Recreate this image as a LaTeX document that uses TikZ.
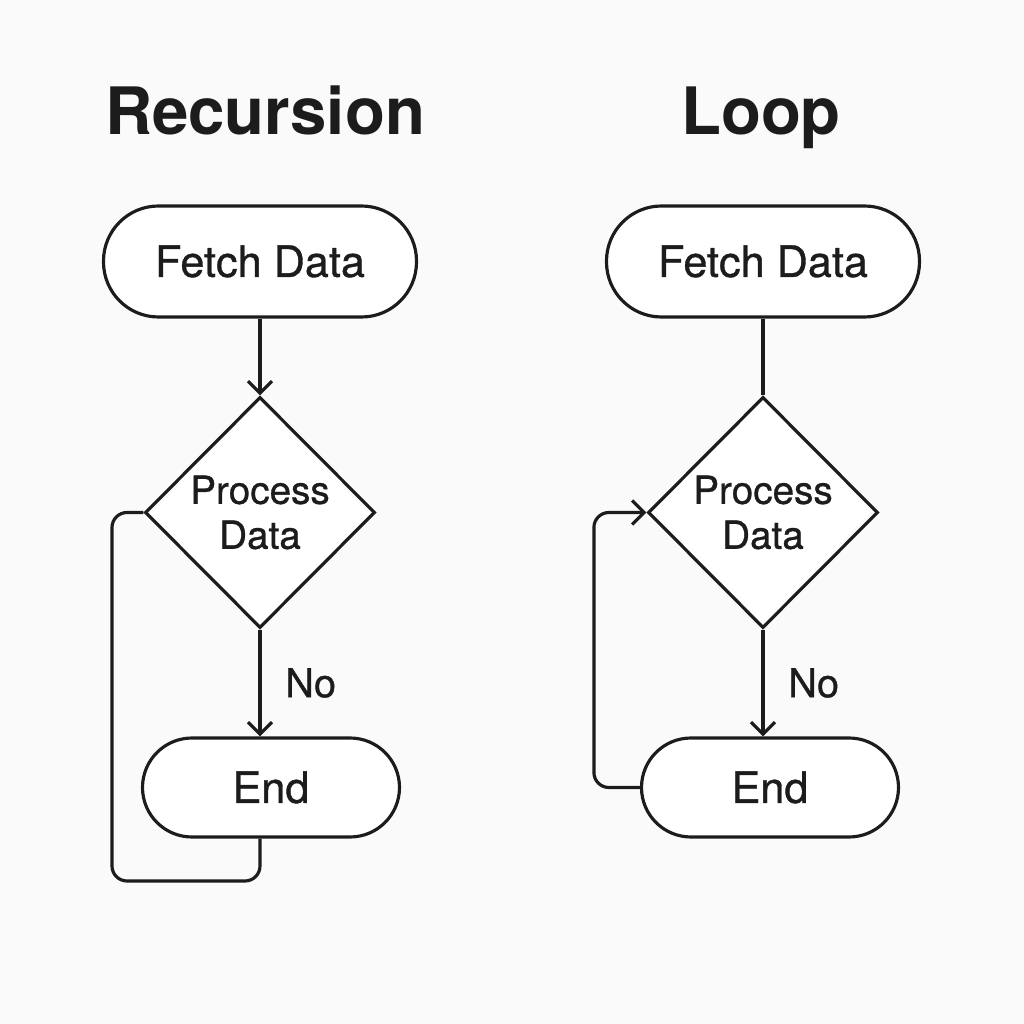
\documentclass[tikz,border=0pt]{standalone}
\usepackage{fontspec}
\setmainfont{TeX Gyre Heros}
\newfontfamily\medfont[FakeBold=0.8]{TeX Gyre Heros}
\usetikzlibrary{shapes.geometric,arrows.meta}

\definecolor{bgc}{HTML}{FAFAFA}
\definecolor{ink}{HTML}{1C1C1C}

\begin{document}
\begin{tikzpicture}[line width=0.9pt,draw=ink,text=ink,node distance=2.51cm,
  >={Straight Barb[length=1.2mm,width=2.4mm]}]

\tikzstyle{every node}=[text=ink]
\tikzstyle{title}=[font=\fontsize{18.6}{20}\selectfont\bfseries,anchor=base]
\tikzstyle{terminal}=[draw=ink,fill=white,rectangle,rounded corners=0.55cm,
  minimum width=3.13cm,minimum height=1.11cm,font=\medfont\fontsize{12.3}{13}\selectfont]
\tikzstyle{stop}=[terminal,rounded corners=0.495cm,minimum width=2.57cm,minimum height=0.99cm]
\tikzstyle{decision}=[draw=ink,fill=white,diamond,inner sep=0pt,align=center,
  minimum width=2.30cm,minimum height=2.31cm,font=\medfont\fontsize{11}{12.8}\selectfont]
\tikzstyle{lbl}=[font=\medfont\fontsize{11.3}{13}\selectfont,right,xshift=0.12cm]

\fill[bgc] (0,0) rectangle (10.24,10.24);
\useasboundingbox (0,0) rectangle (10.24,10.24);

\node[terminal] 	(fetchL) at (2.60,7.625) 		 {Fetch Data};
\node[terminal] 	(fetchR) [right of=fetchL,node distance=5.03cm] {Fetch Data};
\node[title] 		(titleL) [above of=fetchL,node distance=1.265cm,xshift=0.05cm,anchor=base] {Recursion};
\node[title] 		(titleR) [above of=fetchR,node distance=1.265cm,xshift=-0.02cm,anchor=base] {Loop};
\node[decision] 	(procL) [below of=fetchL] 	 {Process\\Data};
\node[decision] 	(procR) [below of=fetchR] 	 {Process\\Data};
\node[stop] 		(endL) [below of=procL,node distance=2.75cm,xshift=0.11cm] {End};
\node[stop] 		(endR) [below of=procR,node distance=2.75cm,xshift=0.07cm] {End};

\coordinate (loopL) at (1.12,1.43);

\path[->] 	(fetchL) 	edge (procL)
			(procL) 	edge node [lbl] {No} (procL.south |- endL.north)
			(procR) 	edge node [lbl] {No} (procR.south |- endR.north);
\path 		(fetchR) 	edge (procR);

\draw[rounded corners=0.15cm] (procL.south |- endL.south) |- (loopL) |- (procL.west);
\draw[->,rounded corners=0.15cm] (endR.west) -- ++(-0.46,0) |- (procR.west);
\end{tikzpicture}
\end{document}
